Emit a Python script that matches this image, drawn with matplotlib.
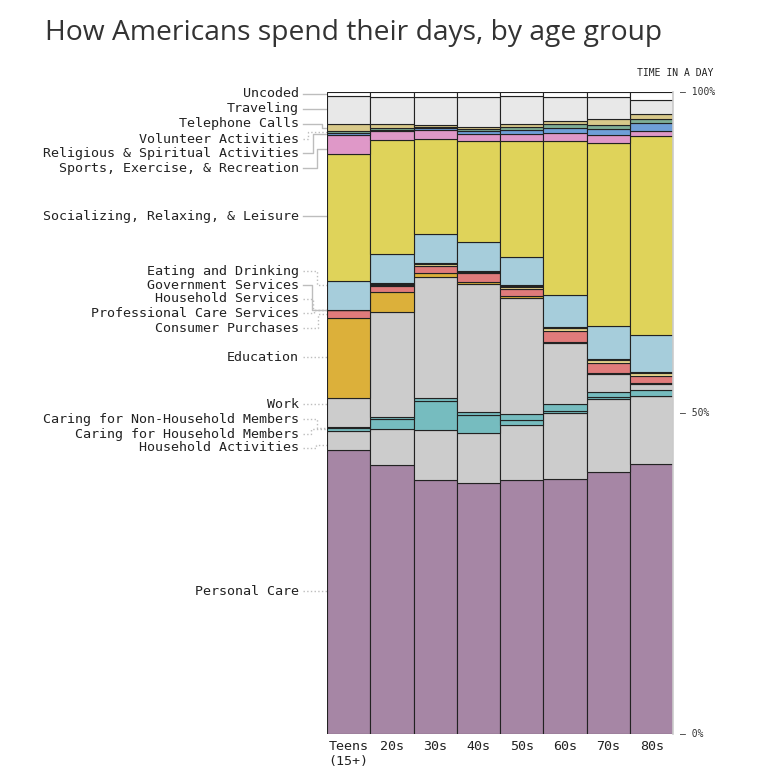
import matplotlib
matplotlib.use("Agg")
import matplotlib.pyplot as plt
import matplotlib.transforms as mtransforms
import numpy as np

ages = ["Teens\n(15+)", "20s", "30s", "40s", "50s", "60s", "70s", "80s"]

# categories listed bottom -> top (percent of a day)
categories = [
    "Personal Care", "Household Activities", "Caring for Household Members",
    "Caring for Non-Household Members", "Work", "Education",
    "Consumer Purchases", "Professional Care Services", "Household Services",
    "Government Services", "Eating and Drinking",
    "Socializing, Relaxing, & Leisure", "Sports, Exercise, & Recreation",
    "Religious & Spiritual Activities", "Volunteer Activities",
    "Telephone Calls", "Traveling", "Uncoded",
]

personal_care = [44.3, 41.9, 39.6, 39.2, 39.6, 39.75, 40.8, 42.2]
household_activities = [3.0, 5.55, 7.7, 7.8, 8.5, 10.2, 11.4, 10.5]
caring_hh = [0.4, 1.55, 4.6, 2.8, 0.8, 0.35, 0.3, 0.15]
caring_nonhh = [0.15, 0.3, 0.4, 0.4, 0.9, 1.1, 0.8, 0.9]
work = [4.5, 16.4, 18.9, 19.9, 18.0, 9.6, 2.8, 0.9]
education = [12.6, 3.1, 0.6, 0.3, 0.3, 0.1, 0.15, 0.15]
consumer = [1.1, 1.0, 1.15, 1.4, 1.2, 1.65, 1.5, 1.05]
professional = [0.05, 0.15, 0.2, 0.2, 0.3, 0.45, 0.5, 0.45]
household_services = [0.03, 0.15, 0.15, 0.1, 0.15, 0.1, 0.15, 0.2]
government = [0.05, 0.1, 0.05, 0.05, 0.05, 0.05, 0.05, 0.05]
eating = [4.5, 4.5, 4.5, 4.5, 4.5, 5.0, 5.1, 5.7]
socializing = [19.8, 17.8, 14.8, 15.8, 17.9, 24.1, 28.6, 31.1]
sports = [2.9, 1.35, 1.4, 1.1, 1.15, 1.15, 1.15, 0.85]
religious = [0.35, 0.3, 0.3, 0.4, 0.6, 0.8, 0.95, 1.15]
volunteer = [0.35, 0.3, 0.2, 0.35, 0.5, 0.6, 0.7, 0.7]
telephone = [1.0, 0.5, 0.3, 0.35, 0.4, 0.5, 0.95, 0.7]
traveling = [4.4, 4.3, 4.3, 4.7, 4.4, 3.8, 3.3, 2.3]
uncoded = [0.6, 0.7, 0.8, 0.7, 0.6, 0.7, 0.8, 1.15]

series = [personal_care, household_activities, caring_hh, caring_nonhh, work,
          education, consumer, professional, household_services, government,
          eating, socializing, sports, religious, volunteer, telephone,
          traveling, uncoded]

colors = ["#a686a5", "#cccccc", "#76bcbf", "#76bcbf", "#cccccc", "#dcb03a",
          "#e07b7b", "#ecd88e", "#b89a6a", "#555555", "#a6cddb", "#dfd35a",
          "#df98c8", "#6f9fd8", "#7fae96", "#d8c98a", "#e8e8e8", "#ffffff"]

# label layout (vertical centre of each label, % of axis), bend x (px), style
label_y = [22.28, 44.57, 46.74, 49.08, 51.42, 58.74, 63.26, 65.6, 67.79,
           69.97, 72.15, 80.72, 88.2, 90.54, 92.72, 95.06, 97.4, 99.74]
bend_px = [316, 316, 311, 317, 316, 316, 318, 314, 313, 312, 317, 316,
           317, 313, 308, 322, 316, 316]
styles = [":", ":", ":", ":", ":", ":", ":", ":", ":", "-", ":", "-",
          "-", "-", ":", "-", "-", "-"]

data = np.array(series, dtype=float)
data = data / data.sum(axis=0) * 100.0

W, H = 763, 783
fig = plt.figure(figsize=(W / 100, H / 100), dpi=100)
ax_l, ax_r, ax_b, ax_t = 327, 673.3, 734, 92.3
ax = fig.add_axes([ax_l / W, 1 - ax_b / H, (ax_r - ax_l) / W, (ax_b - ax_t) / H])

mono = "DejaVu Sans Mono"
x = np.arange(len(ages))
bottom = np.zeros(len(ages))
for vals, col in zip(data, colors):
    ax.bar(x, vals, bottom=bottom, width=1.0, color=col, edgecolor="#222222",
           linewidth=0.8, zorder=2)
    bottom += vals

ax.set_xlim(-0.5, len(ages) - 0.5)
ax.set_ylim(0, 100)
for s in ["top", "left", "bottom"]:
    ax.spines[s].set_visible(False)
ax.spines["right"].set_color("#cccccc")
ax.spines["right"].set_linewidth(1.2)
ax.set_yticks([])
ax.set_xticks(x)
ax.set_xticklabels(ages, fontfamily=mono, fontsize=9.6, color="#222222",
                   linespacing=1.25, va="top")
ax.tick_params(axis="x", length=0, pad=4)

blend = mtransforms.blended_transform_factory(ax.transAxes, ax.transData)

# right percentage labels
for v, t in [(100, "— 100%"), (50, "— 50%"), (0, "— 0%")]:
    ax.text(1.0185, v, t, transform=blend, ha="left", va="center",
            fontfamily=mono, fontsize=7, color="#333333")

fig.text(713 / W, 1 - 73 / H, "TIME IN A DAY", ha="right", va="center",
         fontfamily=mono, fontsize=7, color="#222222")

fig.text(45 / W, 1 - 33 / H, "How Americans spend their days, by age group",
         ha="left", va="center", fontfamily="Open Sans", fontsize=20.3,
         color="#333333")

# labels with leader lines pointing to the first bar
axw = ax_r - ax_l
def fx(px):
    return (px - ax_l) / axw

tops = np.cumsum(data[:, 0])
bots = tops - data[:, 0]
for i, name in enumerate(categories):
    ly = label_y[i]
    lo, hi = bots[i], tops[i]
    pad = min(0.7, (hi - lo) / 2)
    ty = min(max(ly, lo + pad), hi - pad)
    ax.text(fx(299), ly, name, transform=blend, ha="right", va="center",
            fontfamily=mono, fontsize=9.6, color="#222222")
    bx = fx(bend_px[i])
    ax.plot([fx(303), bx, bx, 0.0], [ly, ly, ty, ty], transform=blend,
            color="#bdbdbd", linewidth=1.0, linestyle=styles[i],
            clip_on=False, zorder=1)

fig.savefig("out.png", dpi=100, facecolor="white")
